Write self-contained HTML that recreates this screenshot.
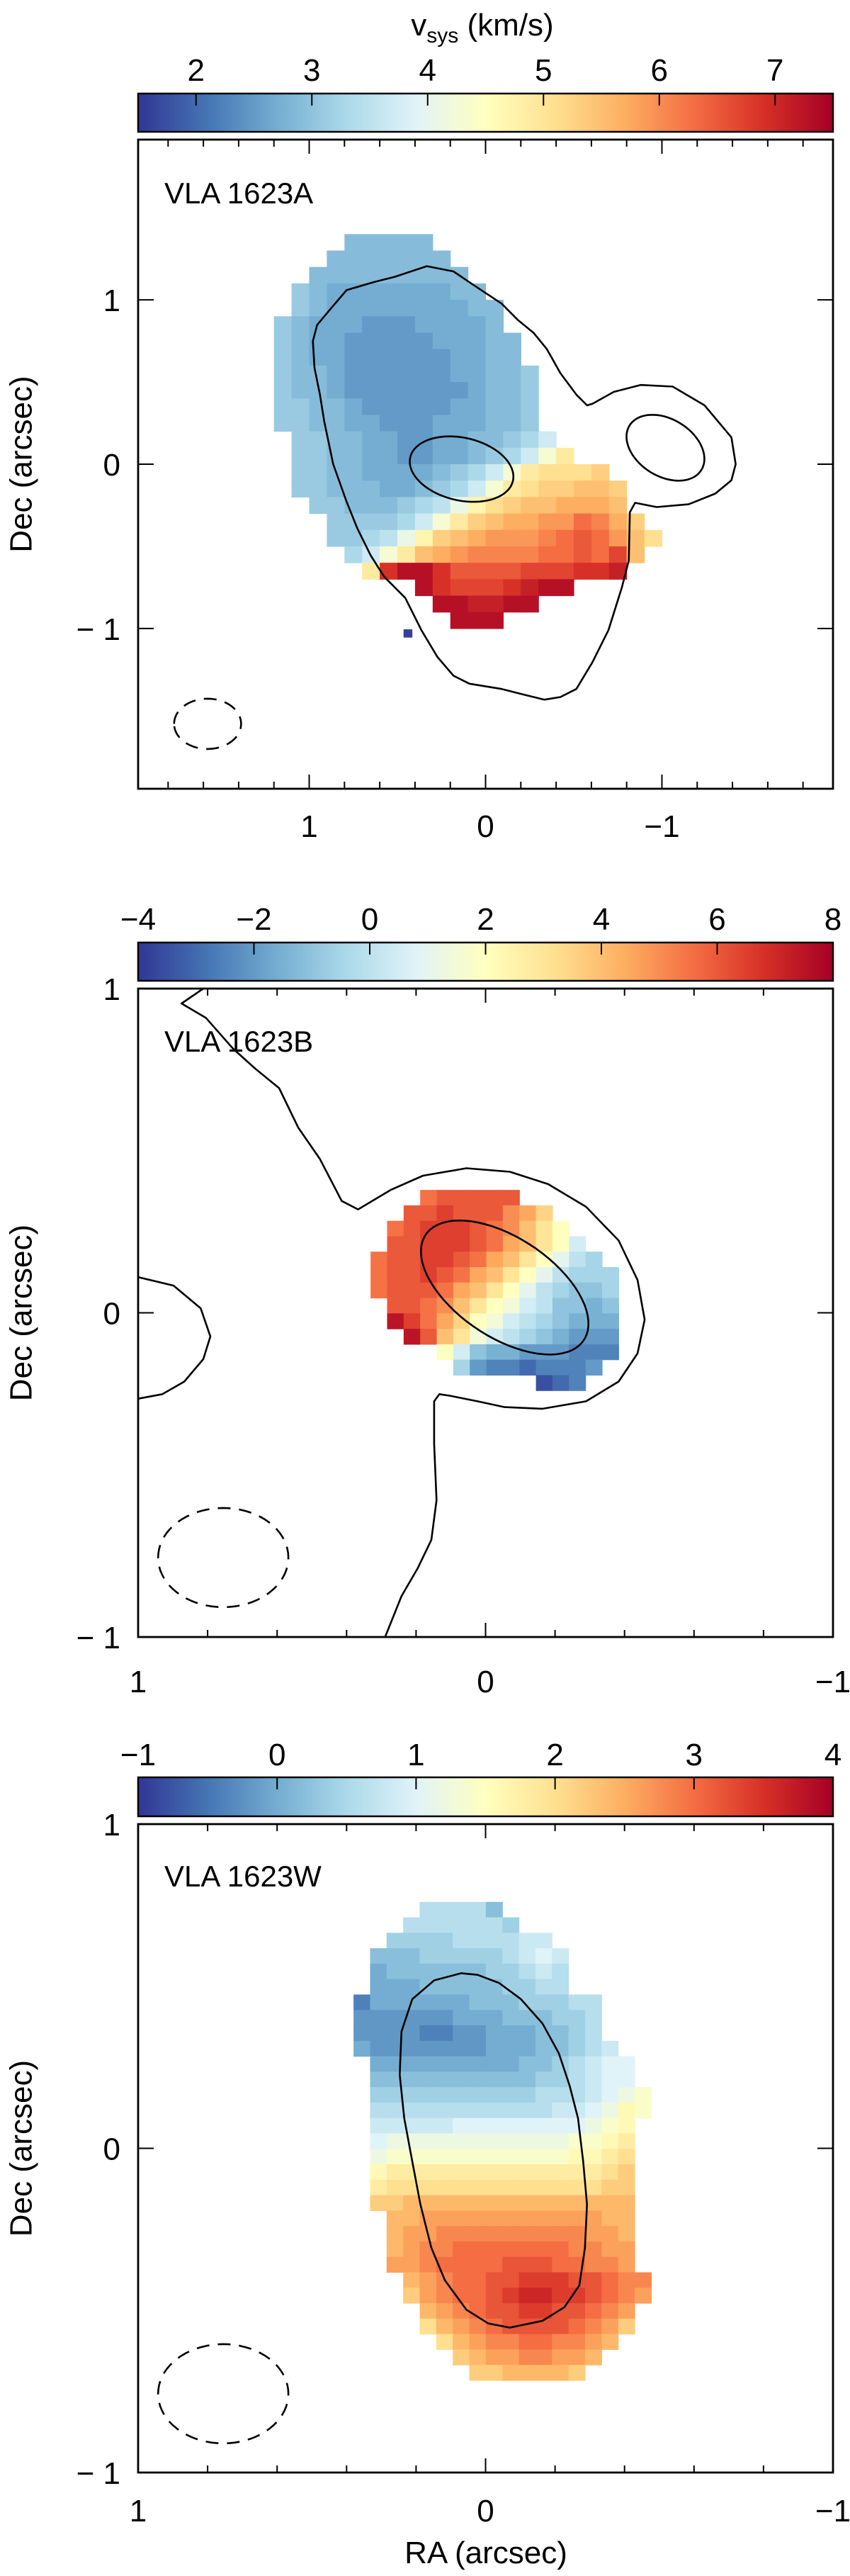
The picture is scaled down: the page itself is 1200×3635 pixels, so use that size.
<!DOCTYPE html>
<html><head><meta charset="utf-8">
<style>
html,body{margin:0;padding:0;background:#fff;}
svg{display:block;font-family:"Liberation Sans",sans-serif;}
</style></head>
<body>
<svg id="fig" xmlns="http://www.w3.org/2000/svg" width="1200" height="3635" viewBox="0 0 1200 3635">
<defs>
<linearGradient id="rdylbu" x1="0" y1="0" x2="1" y2="0">
<stop offset="0" stop-color="#313695"/><stop offset="0.1" stop-color="#4575b4"/><stop offset="0.2" stop-color="#74add1"/><stop offset="0.3" stop-color="#abd9e9"/><stop offset="0.4" stop-color="#e0f3f8"/><stop offset="0.5" stop-color="#ffffbf"/><stop offset="0.6" stop-color="#fee090"/><stop offset="0.7" stop-color="#fdae61"/><stop offset="0.8" stop-color="#f46d43"/><stop offset="0.9" stop-color="#d73027"/><stop offset="1" stop-color="#a50026"/>
</linearGradient>
</defs>
<text x="681" y="50" text-anchor="middle" font-size="44">v<tspan font-size="30" dy="10">sys</tspan><tspan dy="-10"> (km/s)</tspan></text>
<text x="686" y="3617" text-anchor="middle" font-size="44">RA (arcsec)</text>
</svg>
<script>
// ---------- Panel A (VLA 1623A) data ----------
const pACbTicks = [2, 3, 4, 5, 6, 7];
const pARange = [1.5, 7.5];
const pAValueBase = 1.5, pAValueStep = 0.2;   // value = base + step * code
const pAGrid = [1.2, 1.4, 0.1];               // left RA edge, top Dec edge, cell size (arcsec)
const pARows = [
"....77777.............",
"...7777777............",
"..777777777...........",
".87666666677..........",
".876666666677.........",
"8766655566667.........",
"87665555566677........",
"87665555556677........",
"877655555566778.......",
"877655555556778.......",
"887765555566778.......",
"887766555666778.......",
".88776655667789b......",
".8877665566789beh.....",
".88776666789behiiij...",
".8877766789behijjkkj..",
"..8877789adgijkklllk..",
"...88889behjkllmmonlj.",
"...889adgjklmmmnopomki",
"....9behklmnnnnoopoqk.",
".....hrttrppppqqqrrs..",
"........trqqqrstt.....",
".........ttsstt.......",
"..........ttt........."
];
const pAOutlierRA = [0.44], pAOutlierDec = [-1.03], pAOutlierV = [1.6];
const pAContourOuter = [[0.515,1.14],[0.333,1.205],[0.182,1.173],[0.091,1.107],[0,1.042],[-0.091,0.977],[-0.182,0.879],[-0.273,0.798],[-0.348,0.7],[-0.424,0.554],[-0.515,0.423],[-0.576,0.358],[-0.606,0.368],[-0.727,0.44],[-0.879,0.482],[-1.061,0.472],[-1.242,0.358],[-1.394,0.163],[-1.418,0],[-1.394,-0.098],[-1.303,-0.179],[-1.152,-0.244],[-0.97,-0.261],[-0.848,-0.235],[-0.818,-0.293],[-0.812,-0.586],[-0.773,-0.749],[-0.697,-1.01],[-0.606,-1.205],[-0.515,-1.368],[-0.424,-1.417],[-0.333,-1.433],[-0.212,-1.401],[-0.091,-1.368],[0.091,-1.336],[0.182,-1.287],[0.273,-1.173],[0.364,-1.01],[0.455,-0.814],[0.576,-0.684],[0.652,-0.554],[0.727,-0.391],[0.788,-0.228],[0.864,0],[0.915,0.261],[0.939,0.423],[0.97,0.586],[0.979,0.749],[0.955,0.847],[0.879,0.945],[0.788,1.059],[0.636,1.107]];
const pAEllipses = [[0.136,-0.03,0.30,0.19,15],[-1.02,0.10,0.245,0.17,37]];
const pABeam = [1.576,-1.58,0.19,0.153];

// ---------- Panel B (VLA 1623B) data ----------
const pBCbTicks = [-4, -2, 0, 2, 4, 6, 8];
const pBRange = [-4, 8];
const pBValueBase = -4, pBValueStep = 0.5;
const pBGrid = [0.331, 0.379, 0.0476];
const pBRows = [
"...jkkkkk......",
"..kklkkkihf....",
".jklllkjigec...",
".kklllkjhgec9..",
"jkkllkjhgeca87.",
"jkklkjhgeca8777",
"jkkkjhgeca87667",
".kkjigecb986656",
".nljhfcb9876555",
"..nkgeb98765444",
"....c9655444333",
".....743323334.",
"..........123.."
];
const pBContourMain = [[0.8125,1.0],[0.875,0.954],[0.805,0.91],[0.727,0.815],[0.664,0.754],[0.594,0.693],[0.539,0.571],[0.477,0.475],[0.414,0.345],[0.367,0.319],[0.273,0.379],[0.18,0.423],[0.055,0.446],[-0.07,0.435],[-0.18,0.397],[-0.289,0.327],[-0.383,0.223],[-0.4375,0.101],[-0.458,-0.021],[-0.4375,-0.125],[-0.383,-0.212],[-0.289,-0.273],[-0.164,-0.296],[-0.055,-0.291],[0.023,-0.273],[0.102,-0.256],[0.133,-0.251],[0.148,-0.273],[0.148,-0.404],[0.141,-0.578],[0.156,-0.7],[0.195,-0.787],[0.242,-0.874],[0.289,-1.0]];
const pBContourLeft = [[1.0,0.11],[0.898,0.084],[0.82,0.014],[0.792,-0.073],[0.8125,-0.143],[0.867,-0.212],[0.93,-0.251],[1.0,-0.265]];
const pBEllipses = [[-0.055,0.078,0.28,0.15,37]];
const pBBeam = [0.755,-0.755,0.1875,0.153];

// ---------- Panel C (VLA 1623W) data ----------
const pCCbTicks = [-1, 0, 1, 2, 3, 4];
const pCRange = [-1, 4];
const pCValueBase = -1, pCValueStep = 0.2;
const pCGrid = [0.380, 0.76, 0.0476];
const pCRows = [
"....88886.........",
"...8888887........",
"..7777888899......",
".6667777789a9.....",
".566666677898.....",
".555666667788.....",
"355555566677788...",
"444444555666778...",
"444433445556678...",
"5444444455566789..",
".55555555566789aa.",
".66666666667789aa.",
".77777777778889abc",
".8888888888899abdc",
".99999aaaaaaaabcd.",
".abbbbbbbbbbbccde.",
".bcccccccccccddef.",
".deeeeeeeeeeeeefg.",
".efffffffffffffgg.",
".gghhhhhhhhhhhhhh.",
"..hhiiiiiiiiiiihh.",
"..hiijjjjjjjjjiih.",
"..hijjkkkkkkkjjii.",
"..iijkkkklllkkjji.",
"...hijkkllmmmllkjj",
"...gijkklmnnmmlkji",
"....hijkllmmllkji.",
"....fhijkllllkjig.",
".....fhijjkkjjih..",
"......ghiijjiih...",
".......gghhhhg...."
];
const pCContour = [[0.07,0.54],[0.023,0.535],[-0.039,0.51],[-0.102,0.46],[-0.164,0.385],[-0.211,0.293],[-0.242,0.193],[-0.266,0.093],[-0.281,-0.04],[-0.292,-0.173],[-0.286,-0.307],[-0.27,-0.423],[-0.227,-0.49],[-0.164,-0.532],[-0.07,-0.553],[-0.008,-0.54],[0.055,-0.498],[0.117,-0.407],[0.156,-0.307],[0.1875,-0.173],[0.211,-0.04],[0.234,0.093],[0.247,0.227],[0.242,0.36],[0.211,0.46],[0.148,0.518]];
const pCBeam = [0.755,-0.757,0.1875,0.153];

const NS = "http://www.w3.org/2000/svg";
const svg = document.getElementById('fig');
const STOPS = ["#313695","#4575b4","#74add1","#abd9e9","#e0f3f8","#ffffbf","#fee090","#fdae61","#f46d43","#d73027","#a50026"].map(h=>[parseInt(h.slice(1,3),16),parseInt(h.slice(3,5),16),parseInt(h.slice(5,7),16)]);
function cmap(t){
  t=Math.max(0,Math.min(1,t))*(STOPS.length-1);
  const i=Math.min(STOPS.length-2,Math.floor(t)), f=t-i;
  const c=STOPS[i].map((v,k)=>Math.round(v+(STOPS[i+1][k]-v)*f));
  return `rgb(${c[0]},${c[1]},${c[2]})`;
}
function mk(tag, attrs, parent){
  const e=document.createElementNS(NS,tag);
  for(const k in attrs) e.setAttribute(k,attrs[k]);
  (parent||svg).appendChild(e); return e;
}

const panels = [
 {key:'a', label:'VLA 1623A', cbY:132, cbH:54, fy:197, fh:916, ra:[1.97,-1.97], dec:[1.975,-1.975],
  cbTicks:pACbTicks, range:pARange, base:pAValueBase, step:pAValueStep, grid:pAGrid, rows:pARows,
  contours:[pAContourOuter], openContours:[], ellipses:pAEllipses, beam:pABeam,
  xTicks:[1,0,-1], yTicks:[1,0,-1], cbLabelY:114, xLabelY:1181, nameY:287},
 {key:'b', label:'VLA 1623B', cbY:1330, cbH:54, fy:1395, fh:915, ra:[1,-1], dec:[1,-1],
  cbTicks:pBCbTicks, range:pBRange, base:pBValueBase, step:pBValueStep, grid:pBGrid, rows:pBRows,
  contours:[], openContours:[pBContourMain,pBContourLeft], ellipses:pBEllipses, beam:pBBeam,
  xTicks:[1,0,-1], yTicks:[1,0,-1], cbLabelY:1312, xLabelY:2388, nameY:1484},
 {key:'c', label:'VLA 1623W', cbY:2508, cbH:55, fy:2574, fh:915, ra:[1,-1], dec:[1,-1],
  cbTicks:pCCbTicks, range:pCRange, base:pCValueBase, step:pCValueStep, grid:pCGrid, rows:pCRows,
  contours:[pCContour], openContours:[], ellipses:[], beam:pCBeam,
  xTicks:[1,0,-1], yTicks:[1,0,-1], cbLabelY:2491, xLabelY:3558, nameY:2662}
];
const FX=195, FW=981;

panels.forEach(p=>{
  const X = ra => FX + (p.ra[0]-ra)/(p.ra[0]-p.ra[1])*FW;
  const Y = d => p.fy + (p.dec[0]-d)/(p.dec[0]-p.dec[1])*p.fh;
  const C = v => FX + (v-p.range[0])/(p.range[1]-p.range[0])*FW;
  const g = mk('g',{});
  
  
  // clip
  const cp = mk('clipPath',{id:'clip-'+p.key},g);
  mk('rect',{x:FX,y:p.fy,width:FW,height:p.fh},cp);
  // colorbar
  const cb = mk('rect',{x:FX,y:p.cbY,width:FW,height:p.cbH,fill:'url(#rdylbu)',stroke:'#000','stroke-width':2.5},g);
  
  
  p.cbTicks.forEach(v=>{
    const x=C(v);
    const t=mk('line',{x1:x,x2:x,y1:p.cbY,y2:p.cbY+17,stroke:'#000','stroke-width':2},g);
    
    
    const l=mk('text',{x:x,y:p.cbLabelY,'text-anchor':'middle','font-size':44},g);
    l.textContent = v<0 ? '\u2212'+Math.abs(v) : String(v);
    
    
  });
  // map cells
  const mapG = mk('g',{'clip-path':'url(#clip-'+p.key+')'},g);
  
  
  const [ra0,dec0,cs]=p.grid;
  p.rows.forEach((row,j)=>{
    for(let i=0;i<row.length;i++){
      const ch=row[i]; if(ch==='.') continue;
      const v=p.base+p.step*parseInt(ch,36);
      const x1=X(ra0-cs*i), x2=X(ra0-cs*(i+1)), y1=Y(dec0-cs*j), y2=Y(dec0-cs*(j+1));
      const r=mk('rect',{x:x1,y:y1,width:x2-x1+0.6,height:y2-y1+0.6,fill:cmap((v-p.range[0])/(p.range[1]-p.range[0]))},mapG);
      
      
    }
  });
  if(p.key==='a'){
    pAOutlierRA.forEach((ra,k)=>{
      const x1=X(ra+0.025),x2=X(ra-0.025),y1=Y(pAOutlierDec[k]+0.025),y2=Y(pAOutlierDec[k]-0.025);
      const r=mk('rect',{x:x1,y:y1,width:x2-x1,height:y2-y1,fill:cmap((pAOutlierV[k]-p.range[0])/(p.range[1]-p.range[0]))},mapG);
      
      
    });
  }
  // contours
  const cg = mk('g',{'clip-path':'url(#clip-'+p.key+')',fill:'none',stroke:'#000','stroke-width':2.6,'stroke-linejoin':'round'},g);
  p.contours.forEach(pts=>{
    const e=mk('path',{d:'M'+pts.map(q=>X(q[0]).toFixed(1)+','+Y(q[1]).toFixed(1)).join('L')+'Z'},cg);
    
    
  });
  p.openContours.forEach(pts=>{
    const e=mk('path',{d:'M'+pts.map(q=>X(q[0]).toFixed(1)+','+Y(q[1]).toFixed(1)).join('L')},cg);
    
    
  });
  const ell = (prm, dashed)=>{
    const [c0,d0,a,b,ang]=prm; const ph=ang*Math.PI/180; const pts=[];
    for(let k=0;k<=72;k++){const t=k/72*2*Math.PI;
      pts.push([c0+a*Math.cos(t)*Math.cos(ph)-b*Math.sin(t)*Math.sin(ph), d0+a*Math.cos(t)*Math.sin(ph)+b*Math.sin(t)*Math.cos(ph)]);}
    const attrs={d:'M'+pts.map(q=>X(q[0]).toFixed(1)+','+Y(q[1]).toFixed(1)).join('L')+'Z'};
    if(dashed){attrs['stroke-dasharray']='18 12';}
    return mk('path',attrs,cg);
  };
  p.ellipses.forEach(e=>{const el=ell(e,false);
    
    });
  const bm=ell([p.beam[0],p.beam[1],p.beam[2],p.beam[3],0],true);
  
  
  // frame
  const fr=mk('rect',{x:FX,y:p.fy,width:FW,height:p.fh,fill:'none',stroke:'#000','stroke-width':2.8},g);
  
  
  // x ticks (minor every 0.2)
  for(let k=-10;k<=10;k++){
    const ra=k*0.2; if(ra>Math.max(p.ra[0],p.ra[1])+1e-6||ra<Math.min(p.ra[0],p.ra[1])-1e-6) continue;
    const x=X(ra); const major=(k%5===0); const len=major?20:10;
    [[p.fy,p.fy+len],[p.fy+p.fh,p.fy+p.fh-len]].forEach(([a,b])=>{
      const t=mk('line',{x1:x,x2:x,y1:a,y2:b,stroke:'#000','stroke-width':2},g);
      
      
    });
  }
  p.xTicks.forEach(v=>{
    const l=mk('text',{x:X(v),y:p.xLabelY,'text-anchor':'middle','font-size':44},g);
    l.textContent = v<0 ? '\u2212'+Math.abs(v) : String(v);
    
    
  });
  p.yTicks.forEach(v=>{
    const y=Y(v);
    [[FX,FX+22],[FX+FW,FX+FW-22]].forEach(([a,b])=>{
      const t=mk('line',{x1:a,x2:b,y1:y,y2:y,stroke:'#000','stroke-width':2},g);
      
      
    });
    const l=mk('text',{x:170,y:y+16,'text-anchor':'end','font-size':44},g);
    l.textContent = v<0 ? '\u2212 '+Math.abs(v) : String(v);
    
    
  });
  const yl=mk('text',{x:0,y:0,'text-anchor':'middle','dominant-baseline':'central','font-size':44,transform:`translate(30,${p.fy+p.fh/2}) rotate(-90)`},g);
  yl.textContent='Dec (arcsec)';
  
  
  const nm=mk('text',{x:232,y:p.nameY,'font-size':42},g);
  nm.textContent=p.label;
  
  
});
</script>
</body></html>
